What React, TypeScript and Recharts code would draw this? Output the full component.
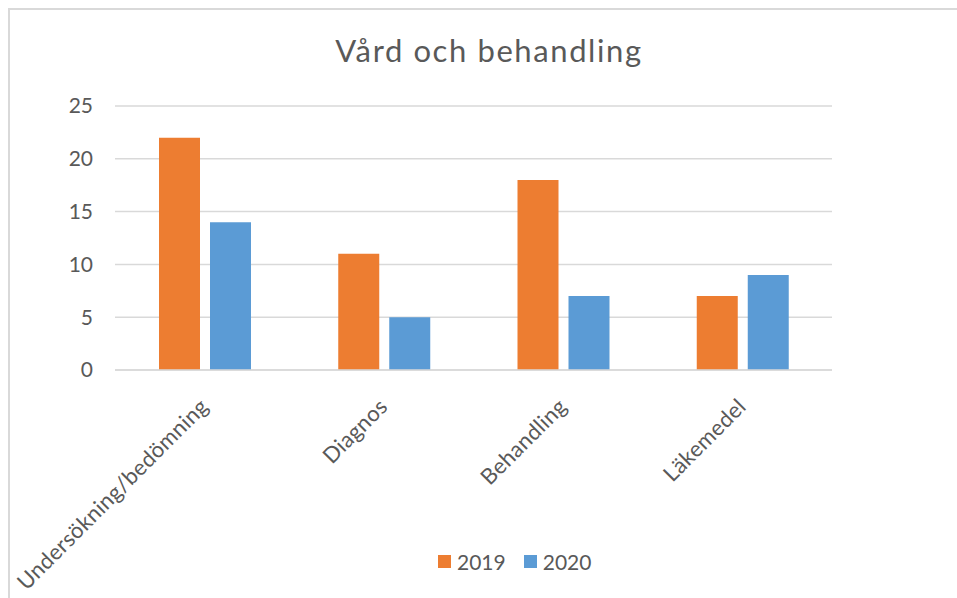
import { BarChart, Bar, XAxis, YAxis, CartesianGrid } from 'recharts';

const categories = ['Undersökning/bedömning', 'Diagnos', 'Behandling', 'Läkemedel'];
const values2019 = [22, 11, 18, 7];
const values2020 = [14, 5, 7, 9];
const yTicks = [0, 5, 10, 15, 20, 25];
const seriesNames = ['2019', '2020'];
const seriesColors = ['#ed7d31', '#5b9bd5'];

const data = categories.map((name, i) => ({
  name,
  '2019': values2019[i],
  '2020': values2020[i],
}));

const TEXT = '#595959';
const FONT = 'Lato, "Open Sans", sans-serif';

const CategoryTick = ({ x, y, payload }: any) => (
  <g transform={`translate(${x + 5},${y + 30})`}>
    <text
      transform="rotate(-45)"
      textAnchor="end"
      fill={TEXT}
      fontSize={22}
      fontFamily={FONT}
      letterSpacing={0.3}
    >
      {payload.value}
    </text>
  </g>
);

export default function App() {
  return (
    <div
      style={{
        position: 'fixed',
        top: 8,
        left: 8,
        width: 949,
        height: 590,
        borderLeft: '2px solid #d9d9d9',
        borderTop: '2px solid #d9d9d9',
        boxSizing: 'border-box',
        background: '#fff',
        overflow: 'hidden',
      }}
    >
      <div
        style={{
          position: 'absolute',
          top: 21,
          left: 479,
          transform: 'translateX(-50%)',
          whiteSpace: 'nowrap',
          fontFamily: FONT,
          fontSize: 31,
          letterSpacing: 1.6,
          color: TEXT,
        }}
      >
        Vård och behandling
      </div>
      <div style={{ position: 'absolute', left: -2, top: -2 }}>
        <BarChart
          width={949}
          height={590}
          data={data}
          margin={{ top: 98, right: 125, left: 47, bottom: 0 }}
          barSize={41}
          barGap={10}
        >
          <CartesianGrid vertical={false} stroke="#d9d9d9" strokeWidth={1.5} />
          <XAxis
            dataKey="name"
            axisLine={{ stroke: '#d9d9d9', strokeWidth: 1.5 }}
            tickLine={false}
            interval={0}
            height={228}
            tick={<CategoryTick />}
          />
          <YAxis
            domain={[0, 25]}
            ticks={yTicks}
            width={60}
            axisLine={false}
            tickLine={false}
            tickSize={0}
            tickMargin={22}
            tick={{ fill: TEXT, fontSize: 21, fontFamily: FONT }}
          />
          {seriesNames.map((s, i) => (
            <Bar key={s} dataKey={s} fill={seriesColors[i]} isAnimationActive={false} />
          ))}
        </BarChart>
      </div>
      <div
        style={{
          position: 'absolute',
          left: 428,
          top: 539,
          display: 'flex',
          gap: 18,
          fontFamily: FONT,
          fontSize: 21,
          lineHeight: '25px',
          color: TEXT,
        }}
      >
        {seriesNames.map((s, i) => (
          <div key={s} style={{ display: 'flex', alignItems: 'center', gap: 6 }}>
            <span style={{ width: 13, height: 13, background: seriesColors[i], display: 'inline-block' }} />
            <span>{s}</span>
          </div>
        ))}
      </div>
    </div>
  );
}
